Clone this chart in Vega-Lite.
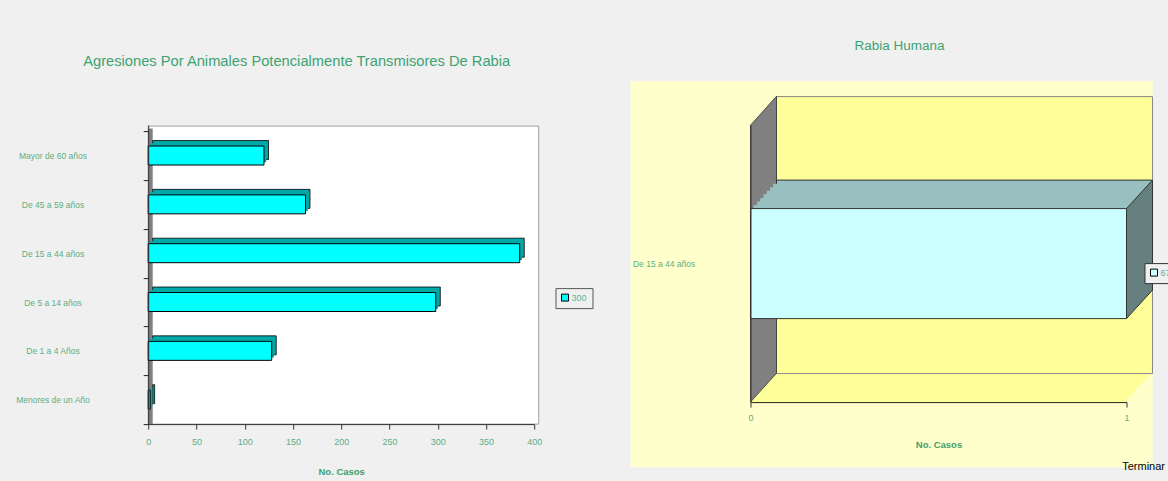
{
  "$schema": "https://vega.github.io/schema/vega-lite/v6.json",
  "background": "#f0f0f0",
  "padding": {"left": 8.2, "top": 38.1, "right": 0, "bottom": 16},
  "bounds": "flush",
  "spacing": 216.3,
  "resolve": {"scale": {"color": "independent"}, "legend": {"color": "independent"}},
  "title": {"text": "Terminar", "orient": "bottom", "anchor": "end", "fontSize": 11, "font": "Liberation Sans", "fontWeight": "normal", "color": "#000000", "dy": -15, "dx": -17, "offset": 0},
  "datasets": {
    "agresiones": [
      {"grupo": "Mayor de 60 años", "casos": 120, "serie": "300"},
      {"grupo": "De 45 a 59 años", "casos": 163, "serie": "300"},
      {"grupo": "De 15 a 44 años", "casos": 385, "serie": "300"},
      {"grupo": "De 5 a 14 años", "casos": 298, "serie": "300"},
      {"grupo": "De 1 a 4 Años", "casos": 128, "serie": "300"},
      {"grupo": "Menores de un Año", "casos": 2, "serie": "300"}
    ],
    "rabia": [
      {"grupo": "De 15 a 44 años", "casos": 1, "serie": "670"}
    ]
  },
  "config": {
    "view": {"stroke": null},
    "font": "Liberation Sans",
    "axis": {"labelFont": "Liberation Sans", "titleFont": "Liberation Sans", "grid": false},
    "legend": {"labelFont": "Liberation Sans"},
    "title": {"font": "Liberation Sans"}
  },
  "hconcat": [
    {
      "width": 386,
      "height": 299,
      "title": {"text": "Agresiones Por Animales Potencialmente Transmisores De Rabia", "fontSize": 14.7, "fontWeight": "normal", "color": "#3da372", "anchor": "middle", "frame": "group", "dx": -44.5, "offset": 52.2},
      "layer": [
        {
          "data": {"values": [{}]},
          "mark": {"type": "rect", "fill": "#ffffff", "stroke": "#a0a0a0", "strokeWidth": 1, "xOffset": 4.5, "yOffset": 1},
          "encoding": {}
        },
        {
          "data": {"values": [{}]},
          "mark": {"type": "rect", "fill": "#808080", "x2Offset": 4.5, "yOffset": 3.5},
          "encoding": {"x": {"datum": 0, "type": "quantitative"}, "x2": {"datum": 0}}
        },
        {
          "data": {"name": "agresiones"},
          "encoding": {
            "y": {"field": "grupo", "type": "nominal", "sort": null,
              "scale": {"paddingInner": 0, "paddingOuter": 0.0616, "align": 1, "round": false},
              "axis": {"zindex": 1, "title": null, "tickBand": "extent", "ticks": true, "tickSize": 5, "tickColor": "#222222", "domainColor": "#333333", "labelAlign": "center", "labelBaseline": "middle", "labelPadding": 90.7, "labelFontSize": 8.5, "labelColor": "#5cae82", "minExtent": 140, "maxExtent": 140, "labelLimit": 0}},
            "x": {"field": "casos", "type": "quantitative",
              "scale": {"domain": [0, 400], "nice": false},
              "axis": {"zindex": 1, "values": [0, 50, 100, 150, 200, 250, 300, 350, 400], "title": "No. Casos", "titleFontSize": 9.5, "titleFontWeight": "bold", "titleColor": "#3c9f6c", "labelColor": "#5cae82", "labelFontSize": 9, "tickColor": "#333333", "domainColor": "#333333", "tickSize": 5, "labelPadding": 8, "titlePadding": 20.5, "labelFlush": false}}
          },
          "layer": [
            {"mark": {"type": "bar", "height": 19, "fill": "#00a8a8", "stroke": "#000000", "strokeWidth": 0.8, "xOffset": 4.5, "x2Offset": 4.5, "yOffset": -5.5}},
            {"mark": {"type": "bar", "height": 19, "fill": "#00a8a8", "xOffset": 2.25, "x2Offset": 2.25, "yOffset": -2.75}},
            {
              "mark": {"type": "bar", "height": 19, "stroke": "#000000", "strokeWidth": 1},
              "encoding": {
                "color": {"field": "serie", "type": "nominal", "scale": {"range": ["#00ffff"]},
                  "legend": {"orient": "none", "legendX": 407.3, "legendY": 163, "title": null, "padding": 5, "strokeColor": "#555555", "fillColor": "#f0f0f0", "symbolType": "square", "symbolSize": 49, "symbolStrokeColor": "#000000", "symbolStrokeWidth": 1, "labelFontSize": 9, "labelColor": "#5fb394", "labelOffset": 2}}
              }
            }
          ]
        }
      ]
    },
    {
      "width": 376,
      "height": 277,
      "title": {"text": "Rabia Humana", "fontSize": 13.5, "fontWeight": "normal", "color": "#3da372", "anchor": "middle", "frame": "group", "dx": -39, "offset": 29},
      "data": {"name": "rabia"},
      "encoding": {
        "y": {"field": "grupo", "type": "nominal", "sort": null,
          "scale": {"paddingInner": 0, "paddingOuter": 0.759, "align": 0.5, "round": false},
          "axis": {"zindex": 1, "title": null, "ticks": false, "tickSize": 0, "domainColor": "#333333", "labelAlign": "left", "labelBaseline": "middle", "labelPadding": 118, "labelFontSize": 8.5, "labelColor": "#5cae82", "labelLimit": 0}},
        "x": {"field": "casos", "type": "quantitative",
          "scale": {"domain": [0, 1], "nice": false},
          "axis": {"zindex": 1, "values": [0, 1], "format": "d", "title": "No. Casos", "titleFontSize": 9.5, "titleFontWeight": "bold", "titleColor": "#3c9f6c", "labelColor": "#5cae82", "labelFontSize": 9, "tickColor": "#333333", "domainColor": "#222222", "tickSize": 5, "labelPadding": 6, "titlePadding": 17.5, "labelFlush": false}}
      },
      "layer": [
        {"mark": {"type": "bar", "fill": "#ffffcc", "height": 386, "yOffset": 10.7, "xOffset": -120, "x2Offset": 26.3}, "encoding": {"x": {"datum": 0, "type": "quantitative"}, "x2": {"datum": 1}}},
        {"mark": {"type": "bar", "fill": "#ffff99", "height": 277}, "encoding": {"x": {"datum": 0, "type": "quantitative"}, "x2": {"datum": 1}}},
        {"mark": {"type": "bar", "fill": "#ffff99", "height": 277, "xOffset": 3.25, "x2Offset": 3.25, "yOffset": -3.56}, "encoding": {"x": {"datum": 0, "type": "quantitative"}, "x2": {"datum": 1}}},
        {"mark": {"type": "bar", "fill": "#ffff99", "height": 277, "xOffset": 6.5, "x2Offset": 6.5, "yOffset": -7.13}, "encoding": {"x": {"datum": 0, "type": "quantitative"}, "x2": {"datum": 1}}},
        {"mark": {"type": "bar", "fill": "#ffff99", "height": 277, "xOffset": 9.75, "x2Offset": 9.75, "yOffset": -10.69}, "encoding": {"x": {"datum": 0, "type": "quantitative"}, "x2": {"datum": 1}}},
        {"mark": {"type": "bar", "fill": "#ffff99", "height": 277, "xOffset": 13, "x2Offset": 13, "yOffset": -14.25}, "encoding": {"x": {"datum": 0, "type": "quantitative"}, "x2": {"datum": 1}}},
        {"mark": {"type": "bar", "fill": "#ffff99", "height": 277, "xOffset": 16.25, "x2Offset": 16.25, "yOffset": -17.81}, "encoding": {"x": {"datum": 0, "type": "quantitative"}, "x2": {"datum": 1}}},
        {"mark": {"type": "bar", "fill": "#ffff99", "height": 277, "xOffset": 19.5, "x2Offset": 19.5, "yOffset": -21.38}, "encoding": {"x": {"datum": 0, "type": "quantitative"}, "x2": {"datum": 1}}},
        {"mark": {"type": "bar", "fill": "#ffff99", "height": 277, "xOffset": 22.75, "x2Offset": 22.75, "yOffset": -24.94}, "encoding": {"x": {"datum": 0, "type": "quantitative"}, "x2": {"datum": 1}}},
        {"mark": {"type": "bar", "fill": "#ffff99", "stroke": "#888888", "strokeWidth": 1, "height": 277, "xOffset": 26, "x2Offset": 26, "yOffset": -28.5}, "encoding": {"x": {"datum": 0, "type": "quantitative"}, "x2": {"datum": 1}}},
        {
          "mark": {"type": "point", "filled": true, "opacity": 1, "fill": "#808080", "stroke": "#333333", "strokeWidth": 0.8, "shape": "M-0.085,-0.8103L0.085,-1L0.085,0.8122L-0.085,1Z", "size": 93452, "xOffset": 13, "yOffset": -14.45},
          "encoding": {"x": {"datum": 0, "type": "quantitative"}}
        },
        {"mark": {"type": "bar", "fill": "#99c0c0", "stroke": "#333333", "strokeWidth": 1, "xOffset": 26, "x2Offset": 26, "yOffset": -28.5, "y2Offset": -28.5}},
        {"mark": {"type": "bar", "fill": "#99c0c0", "xOffset": 22.75, "x2Offset": 22.75, "yOffset": -24.94, "y2Offset": -24.94}},
        {"mark": {"type": "bar", "fill": "#99c0c0", "xOffset": 19.5, "x2Offset": 19.5, "yOffset": -21.38, "y2Offset": -21.38}},
        {"mark": {"type": "bar", "fill": "#99c0c0", "xOffset": 16.25, "x2Offset": 16.25, "yOffset": -17.81, "y2Offset": -17.81}},
        {"mark": {"type": "bar", "fill": "#99c0c0", "xOffset": 13, "x2Offset": 13, "yOffset": -14.25, "y2Offset": -14.25}},
        {"mark": {"type": "bar", "fill": "#99c0c0", "xOffset": 9.75, "x2Offset": 9.75, "yOffset": -10.69, "y2Offset": -10.69}},
        {"mark": {"type": "bar", "fill": "#99c0c0", "xOffset": 6.5, "x2Offset": 6.5, "yOffset": -7.13, "y2Offset": -7.13}},
        {"mark": {"type": "bar", "fill": "#99c0c0", "xOffset": 3.25, "x2Offset": 3.25, "yOffset": -3.56, "y2Offset": -3.56}},
        {"mark": {"type": "point", "filled": true, "opacity": 1, "fill": "#668080", "stroke": "#333333", "strokeWidth": 1, "shape": "M-0.1877,-0.5884L0.1877,-1L0.1877,0.5884L-0.1877,1Z", "size": 19182, "xOffset": 13, "yOffset": -14.25}},
        {
          "mark": {"type": "bar", "stroke": "#333333", "strokeWidth": 1},
          "encoding": {
            "color": {"field": "serie", "type": "nominal", "scale": {"range": ["#ccffff"]},
              "legend": {"orient": "none", "legendX": 394, "legendY": 138, "title": null, "padding": 5, "strokeColor": "#333333", "fillColor": "#f0f0f0", "symbolType": "square", "symbolSize": 49, "symbolStrokeColor": "#000000", "symbolStrokeWidth": 1, "labelFontSize": 9, "labelColor": "#5fb394", "labelOffset": 2}}
          }
        }
      ]
    }
  ]
}
